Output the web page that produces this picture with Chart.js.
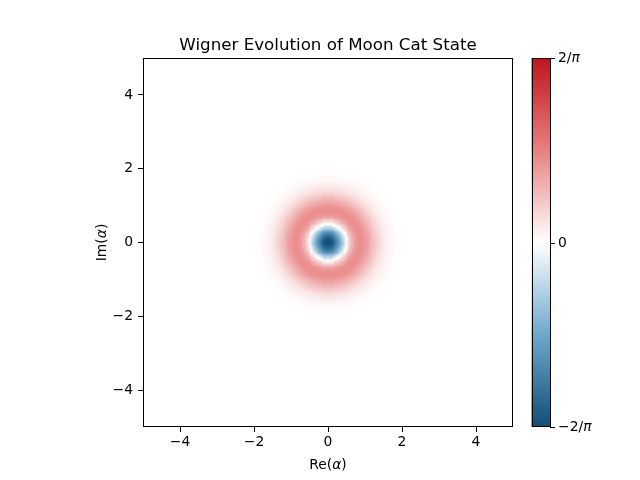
<!DOCTYPE html>
<html>
<head>
<meta charset="utf-8">
<script src="https://cdn.jsdelivr.net/npm/chart.js@4.4.1/dist/chart.umd.min.js"></script>
<style>
  html, body { margin: 0; padding: 0; background: #fff; }
  canvas { display: block; }
</style>
</head>
<body>
<canvas id="wigner" width="640" height="480"></canvas>
<script>
// radial profile of W(alpha), in units of 2/pi
const radii = [0.00, 0.05, 0.10, 0.15, 0.20, 0.25, 0.30, 0.35, 0.40, 0.45,
               0.50, 0.55, 0.60, 0.65, 0.70, 0.75, 0.80, 0.85, 0.90, 0.95,
               1.00, 1.05, 1.10, 1.15, 1.20, 1.25, 1.30, 1.35, 1.40, 1.45,
               1.50, 1.55, 1.60, 1.65, 1.70, 1.75, 1.80, 1.85, 1.90, 1.95, 2.00];
const wValues = [-1.00, -0.985, -0.94, -0.87, -0.775, -0.66, -0.535, -0.40, -0.26, -0.127,
                 0.00, 0.115, 0.214, 0.296, 0.36, 0.406, 0.434, 0.446, 0.443, 0.429,
                 0.406, 0.376, 0.341, 0.305, 0.267, 0.231, 0.196, 0.164, 0.136, 0.111,
                 0.089, 0.071, 0.055, 0.043, 0.033, 0.025, 0.018, 0.0135, 0.0098, 0.0071, 0.005];
const radialStep = 0.05;
const gridStep = 0.025;
const gridExtent = 2.5;

const xTickValues = [-4, -2, 0, 2, 4];
const yTickValues = [-4, -2, 0, 2, 4];
const cbarTickValues = [-1, 0, 1];
const cbarTickLabels = [["\u22122/", "\u03c0"], ["0", ""], ["2/", "\u03c0"]];

const titleText = "Wigner Evolution of Moon Cat State";

// colormap stops (value in units of 2/pi)
const cmapValues = [-1, -0.5, 0, 0.5, 1];
const cmapColors = [[16, 78, 120], [110, 168, 204], [255, 255, 255], [232, 128, 128], [192, 20, 28]];

function colorFor(v) {
  v = Math.max(-1, Math.min(1, v));
  for (let i = 0; i < cmapValues.length - 1; i++) {
    if (v <= cmapValues[i + 1]) {
      const t = (v - cmapValues[i]) / (cmapValues[i + 1] - cmapValues[i]);
      const a = cmapColors[i], b = cmapColors[i + 1];
      return `rgb(${Math.round(a[0] + (b[0] - a[0]) * t)},${Math.round(a[1] + (b[1] - a[1]) * t)},${Math.round(a[2] + (b[2] - a[2]) * t)})`;
    }
  }
  return "rgb(192,20,28)";
}

// build grid cells, each takes the profile value of its nearest radius
const cells = [];
const n = Math.round(2 * gridExtent / gridStep);
for (let i = 0; i < n; i++) {
  for (let j = 0; j < n; j++) {
    const cx = -gridExtent + gridStep * (i + 0.5);
    const cy = -gridExtent + gridStep * (j + 0.5);
    const k = Math.round(Math.hypot(cx, cy) / radialStep);
    const v = k < wValues.length ? wValues[k] : 0;
    if (v !== 0) cells.push({ x: cx, y: cy, v: v });
  }
}

const fmt = v => v < 0 ? "\u2212" + Math.abs(v) : String(v);
const FONT = "'DejaVu Sans', sans-serif";

function drawParts(ctx, parts, x, y, align, size) {
  const fonts = [`${size}px ${FONT}`, `italic ${size}px ${FONT}`, `${size}px ${FONT}`];
  let w = 0;
  parts.forEach((p, i) => { ctx.font = fonts[i]; w += ctx.measureText(p).width; });
  let px = align === "center" ? x - w / 2 : (align === "right" ? x - w : x);
  ctx.textAlign = "left";
  parts.forEach((p, i) => {
    ctx.font = fonts[i];
    ctx.fillText(p, px, y);
    px += ctx.measureText(p).width;
  });
}

const heatmapPlugin = {
  id: "heatmap",
  beforeDatasetsDraw(chart) {
    const ctx = chart.ctx, xs = chart.scales.x, ys = chart.scales.y;
    const half = gridStep / 2;
    ctx.save();
    chart.data.datasets[0].data.forEach(c => {
      const x0 = Math.round(xs.getPixelForValue(c.x - half));
      const x1 = Math.round(xs.getPixelForValue(c.x + half));
      const y0 = Math.round(ys.getPixelForValue(c.y + half));
      const y1 = Math.round(ys.getPixelForValue(c.y - half));
      if (x1 <= x0 || y1 <= y0) return;
      ctx.fillStyle = colorFor(c.v);
      ctx.fillRect(x0, y0, x1 - x0, y1 - y0);
    });
    ctx.restore();
  },
  afterDraw(chart) {
    const ctx = chart.ctx, a = chart.chartArea, ys = chart.scales.y;
    ctx.save();
    // axes frame
    ctx.strokeStyle = "#000";
    ctx.lineWidth = 1;
    ctx.strokeRect(Math.round(a.left) + 0.5, Math.round(a.top) + 0.5,
                   Math.round(a.right - a.left) - 1, Math.round(a.bottom - a.top) - 1);

    // title
    ctx.fillStyle = "#000";
    ctx.textBaseline = "alphabetic";
    ctx.textAlign = "center";
    ctx.font = `16.7px ${FONT}`;
    ctx.fillText(titleText, (a.left + a.right) / 2, a.top - 8);

    // axis labels
    drawParts(ctx, ["Re(", "\u03b1", ")"], (a.left + a.right) / 2, 469, "center", 13.9);
    ctx.save();
    ctx.translate(106, (a.top + a.bottom) / 2);
    ctx.rotate(-Math.PI / 2);
    drawParts(ctx, ["Im(", "\u03b1", ")"], 0, 0, "center", 13.9);
    ctx.restore();

    // colorbar
    const cbL = a.right + 18.5, cbR = a.right + 37.5;
    const top = ys.getPixelForValue(5), bot = ys.getPixelForValue(-5);
    const grad = ctx.createLinearGradient(0, bot, 0, top);
    cmapValues.forEach((v, i) => {
      const c = cmapColors[i];
      grad.addColorStop((v + 1) / 2, `rgb(${c[0]},${c[1]},${c[2]})`);
    });
    ctx.fillStyle = grad;
    ctx.fillRect(cbL, top, cbR - cbL, bot - top);
    ctx.strokeStyle = "#000";
    ctx.strokeRect(Math.round(cbL) + 0.5, Math.round(top) + 0.5, Math.round(cbR - cbL) - 1, Math.round(bot - top) - 1);
    ctx.fillStyle = "#000";
    ctx.textBaseline = "middle";
    cbarTickValues.forEach((v, i) => {
      const y = Math.round(ys.getPixelForValue(v * 5)) + 0.5;
      ctx.beginPath();
      ctx.moveTo(cbR - 0.5, y);
      ctx.lineTo(cbR + 4.5, y);
      ctx.stroke();
      drawParts(ctx, cbarTickLabels[i], cbR + 7.5, y, "left", 13.9);
    });
    ctx.restore();
  }
};

new Chart(document.getElementById("wigner"), {
  type: "scatter",
  data: {
    datasets: [{
      data: cells,
      pointRadius: 0,
      pointHoverRadius: 0
    }]
  },
  options: {
    responsive: false,
    animation: false,
    devicePixelRatio: 1,
    events: [],
    layout: { padding: { top: 58, right: 127, left: 0, bottom: 0 } },
    plugins: {
      legend: { display: false },
      title: { display: false },
      tooltip: { enabled: false }
    },
    scales: {
      x: {
        type: "linear",
        min: -5,
        max: 5,
        afterBuildTicks: s => { s.ticks = xTickValues.map(v => ({ value: v })); },
        afterFit: s => { s.height = 53; },
        grid: { display: true, drawOnChartArea: false, drawTicks: true, tickLength: 5, color: "#000" },
        border: { display: false },
        ticks: { color: "#000", font: { family: FONT, size: 13.9 }, padding: 2, maxRotation: 0, callback: v => fmt(v) }
      },
      y: {
        type: "linear",
        min: -5,
        max: 5,
        afterBuildTicks: s => { s.ticks = yTickValues.map(v => ({ value: v })); },
        afterFit: s => { s.width = 143; },
        grid: { display: true, drawOnChartArea: false, drawTicks: true, tickLength: 5, color: "#000" },
        border: { display: false },
        ticks: { color: "#000", font: { family: FONT, size: 13.9 }, padding: 5, callback: v => fmt(v) }
      }
    }
  },
  plugins: [heatmapPlugin]
});
</script>
</body>
</html>
